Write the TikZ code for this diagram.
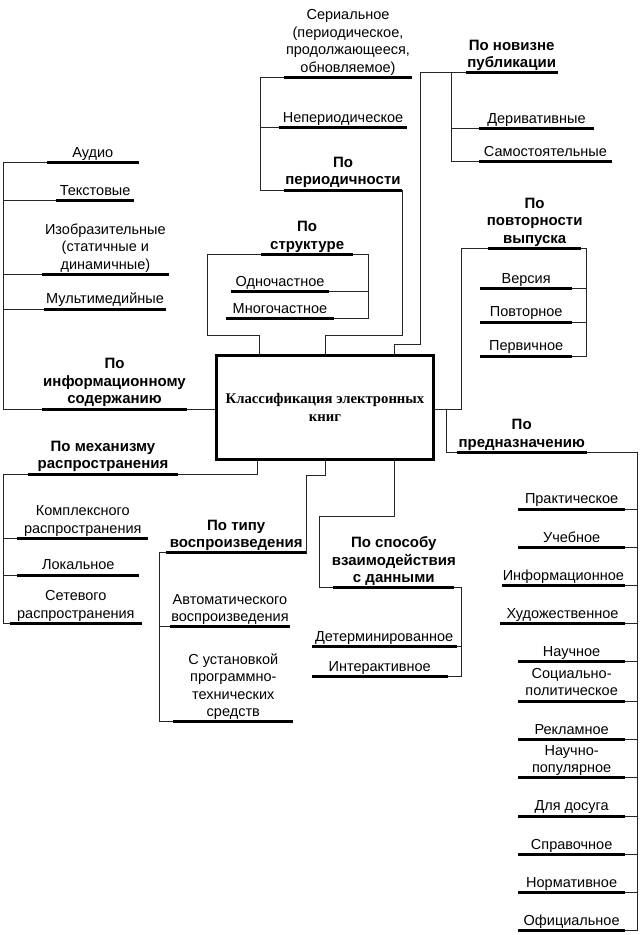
\documentclass[tikz,border=0pt]{standalone}
\usepackage{fontspec}
\setmainfont{Liberation Sans}
\newfontfamily\boxfont{Liberation Serif}
\tikzset{
  conn/.style={draw=black!85, line width=1pt},
  uline/.style={draw=black, line width=3pt},
  itemtxt/.style={font=\fontsize{14.5}{17.5}\selectfont, align=center, inner sep=0pt, text depth=0pt, anchor=south},
  hdrtxt/.style={itemtxt, font=\fontsize{15}{17.5}\selectfont\bfseries},
  mainbox/.style={draw=black, line width=3.5pt, minimum width=217pt, minimum height=104pt,
    font=\fontsize{14.7}{18}\selectfont\boxfont\bfseries, align=center, inner sep=0pt}
}
\newcommand\uitem[6]{%
  \coordinate (#1-l) at (#2,#4);
  \coordinate (#1-r) at (#3,#4);
  \node[#5] (#1) at ({(#2+#3)/2},{#4-5}) {#6};
  \draw[uline] (#1-l) -- (#1-r);
}
\begin{document}
\begin{tikzpicture}[x=1pt,y=-1pt]
\useasboundingbox (0,0) rectangle (642,935);

\node[mainbox] (box) at (325,407.5) {Классификация электронных\\книг};

% left: information content
\uitem{audio}{46.7}{139}{162.3}{itemtxt}{Аудио}
\uitem{tekst}{56}{134.3}{200.3}{itemtxt}{Текстовые}
\uitem{izob}{41.7}{169}{274.3}{itemtxt}{Изобразительные\\(статичные и\\динамичные)}
\uitem{multi}{44.3}{165.7}{309}{itemtxt}{Мультимедийные}
\uitem{info}{41.7}{187.3}{409}{hdrtxt}{По\\информационному\\содержанию}

% top: periodicity
\uitem{ser}{284.3}{411.7}{77.3}{itemtxt}{Сериальное\\(периодическое,\\продолжающееся,\\обновляемое)}
\uitem{neper}{278.7}{407.3}{127.3}{itemtxt}{Непериодическое}
\uitem{per}{284}{402}{190}{hdrtxt}{По\\периодичности}

% structure
\uitem{str}{261}{353.3}{254.3}{hdrtxt}{По\\структуре}
\uitem{odno}{230.7}{329.3}{291.7}{itemtxt}{Одночастное}
\uitem{mnogo}{226}{334}{318.3}{itemtxt}{Многочастное}

% novelty
\uitem{nov}{465.7}{557.7}{72.7}{hdrtxt}{По новизне\\публикации}
\uitem{deriv}{479}{594}{128.3}{itemtxt}{Деривативные}
\uitem{samo}{479}{611.7}{161.7}{itemtxt}{Самостоятельные}

% repetition
\uitem{povt}{488.3}{581}{248.3}{hdrtxt}{По\\повторности\\выпуска}
\uitem{vers}{480}{572.3}{288.3}{itemtxt}{Версия}
\uitem{povtor}{480}{572.3}{322}{itemtxt}{Повторное}
\uitem{perv}{480}{572.3}{356}{itemtxt}{Первичное}

% purpose
\uitem{pred}{456.7}{586.7}{452.3}{hdrtxt}{По\\предназначению}
\uitem{prakt}{518.3}{625}{509}{itemtxt}{Практическое}
\uitem{ucheb}{518.3}{625}{547.3}{itemtxt}{Учебное}
\uitem{inform}{501.7}{625}{585.7}{itemtxt}{Информационное}
\uitem{hud}{500}{625}{623.3}{itemtxt}{Художественное}
\uitem{nauch}{518.3}{625}{661.7}{itemtxt}{Научное}
\uitem{soc}{518.3}{625}{701}{itemtxt}{Социально-\\политическое}
\uitem{reklam}{518.3}{625}{739.3}{itemtxt}{Рекламное}
\uitem{naupop}{518.3}{625}{777.7}{itemtxt}{Научно-\\популярное}
\uitem{dosug}{518.3}{625}{816}{itemtxt}{Для досуга}
\uitem{sprav}{518.3}{625}{854.3}{itemtxt}{Справочное}
\uitem{norm}{518.3}{625}{892.7}{itemtxt}{Нормативное}
\uitem{ofic}{518.3}{625}{930.7}{itemtxt}{Официальное}

% distribution mechanism
\uitem{mech}{28.3}{177.7}{474}{hdrtxt}{По механизму\\распространения}
\uitem{kompl}{17.3}{148.3}{538.3}{itemtxt}{Комплексного\\распространения}
\uitem{lok}{17.3}{139.3}{575}{itemtxt}{Локальное}
\uitem{set}{10}{141.7}{623.3}{itemtxt}{Сетевого\\распространения}

% playback type
\uitem{tip}{165.7}{306.7}{552.7}{hdrtxt}{По типу\\воспроизведения}
\uitem{avto}{170}{290}{626.7}{itemtxt}{Автоматического\\воспроизведения}
\uitem{ust}{173.3}{293.3}{721.7}{itemtxt}{С установкой\\программно-\\технических\\средств}

% interaction
\uitem{spos}{333.3}{454.3}{587.7}{hdrtxt}{По способу\\взаимодействия\\с данными}
\uitem{det}{311.7}{456.7}{646.7}{itemtxt}{Детерминированное}
\uitem{inter}{311.7}{447.7}{676.7}{itemtxt}{Интерактивное}

% ---- connectors ----
% info
\coordinate (infoV) at (3,0);
\draw[conn] (audio-l) -- (audio-l -| infoV) -- (info-l -| infoV) -- (info-l);
\foreach \n in {tekst,izob,multi} \draw[conn] (\n-l) -- (\n-l -| infoV);
\draw[conn] (info-r) -- (info-r -| box.west);

% periodicity
\coordinate (perV) at (260,0);
\draw[conn] (ser-l) -- (ser-l -| perV) -- (per-l -| perV) -- (per-l);
\draw[conn] (neper-l) -- (neper-l -| perV);
\coordinate (perJ) at (325,335);
\draw[conn] (per-r) |- (perJ) -- (perJ |- box.north);

% structure
\coordinate (strL) at (207.3,335);
\coordinate (strJ) at (259.3,335);
\draw[conn] (str-l) -| (strL) -- (strJ) -- (strJ |- box.north);
\coordinate (strR) at (368.3,0);
\draw[conn] (str-r) -- (str-r -| strR) -- (mnogo-r -| strR) -- (mnogo-r);
\draw[conn] (odno-r) -- (odno-r -| strR);

% novelty
\coordinate (novB) at (394,344);
\coordinate (novJ) at (420.7,344);
\draw[conn] (novB |- box.north) -- (novB) -- (novJ) -- (novJ |- nov-l) -- (nov-l);
\coordinate (novV) at (451.7,0);
\draw[conn] (nov-l -| novV) -- (samo-l -| novV) -- (samo-l);
\draw[conn] (deriv-l) -- (deriv-l -| novV);

% repetition
\coordinate (rJ) at (461.7,409);
\draw[conn] (box.east |- rJ) -- (rJ) -- (rJ |- povt-l) -- (povt-l);
\coordinate (povV) at (586.7,0);
\draw[conn] (povt-r) -- (povt-r -| povV) -- (perv-r -| povV) -- (perv-r);
\draw[conn] (vers-r) -- (vers-r -| povV);
\draw[conn] (povtor-r) -- (povtor-r -| povV);

% purpose
\coordinate (prJ) at (446,409);
\draw[conn] (prJ) -- (prJ |- pred-l) -- (pred-l);
\coordinate (prV) at (637,0);
\draw[conn] (pred-r) -- (pred-r -| prV) -- (ofic-r -| prV) -- (ofic-r);
\foreach \n in {prakt,ucheb,inform,hud,nauch,soc,reklam,naupop,dosug,sprav,norm} \draw[conn] (\n-r) -- (\n-r -| prV);

% mechanism
\coordinate (meJ) at (257.7,474);
\draw[conn] (meJ |- box.south) -- (meJ) -- (mech-r);
\coordinate (meV) at (3.3,0);
\draw[conn] (mech-l) -- (mech-l -| meV) -- (set-l -| meV) -- (set-l);
\draw[conn] (kompl-l) -- (kompl-l -| meV);
\draw[conn] (lok-l) -- (lok-l -| meV);

% playback type
\coordinate (tiJ1) at (325,475.5);
\coordinate (tiJ2) at (306.7,475.5);
\draw[conn] (tiJ1 |- box.south) -- (tiJ1) -- (tiJ2) -- (tip-r);
\coordinate (tiV) at (159,0);
\draw[conn] (tip-l) -- (tip-l -| tiV) -- (ust-l -| tiV) -- (ust-l);
\draw[conn] (avto-l) -- (avto-l -| tiV);

% interaction
\coordinate (spJ1) at (394.3,516);
\coordinate (spJ2) at (319,516);
\draw[conn] (spJ1 |- box.south) -- (spJ1) -- (spJ2) -- (spJ2 |- spos-l) -- (spos-l);
\coordinate (spV) at (461.7,0);
\draw[conn] (spos-r) -- (spos-r -| spV) -- (inter-r -| spV) -- (inter-r);
\draw[conn] (det-r) -- (det-r -| spV);
\end{tikzpicture}
\end{document}
